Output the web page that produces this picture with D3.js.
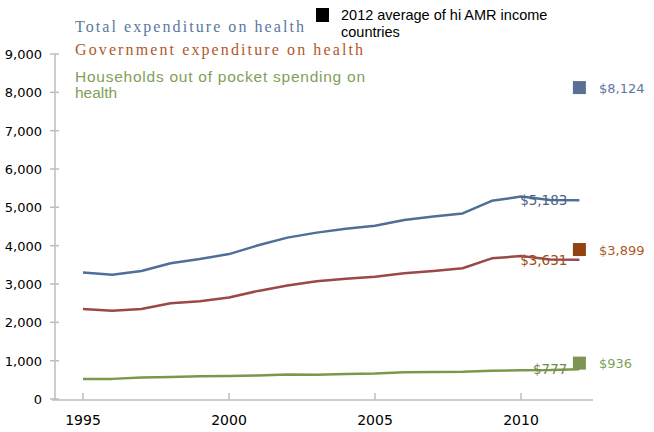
<!DOCTYPE html>
<html lang="en">
<head>
    <meta charset="UTF-8">
    <title>Health expenditure</title>
    <script src="https://d3js.org/d3.v7.min.js"></script>
    <style>
        body { margin: 0; background: #fff; }
        svg { display: block; }
        .tick-label { font-family: "DejaVu Sans", sans-serif; font-size: 13px; fill: #000; }
        .axis-line { stroke: #bdbdbd; stroke-width: 1.5px; }
    </style>
</head>
<body>
    <svg id="chart" width="654" height="432"></svg>
    <script>
        // Chart data
        const years = [1995, 1996, 1997, 1998, 1999, 2000, 2001, 2002, 2003, 2004, 2005, 2006, 2007, 2008, 2009, 2010, 2011, 2012];
        const totalExp = [3300, 3240, 3340, 3540, 3650, 3780, 4010, 4210, 4340, 4440, 4520, 4670, 4760, 4840, 5170, 5280, 5190, 5183];
        const govExp = [2350, 2300, 2350, 2500, 2550, 2650, 2820, 2960, 3070, 3140, 3190, 3280, 3340, 3410, 3670, 3730, 3640, 3631];
        const oopExp = [522, 525, 560, 575, 595, 600, 612, 640, 630, 650, 665, 700, 705, 710, 740, 750, 755, 777];
        const yTicks = [0, 1000, 2000, 3000, 4000, 5000, 6000, 7000, 8000, 9000];
        const xTicks = [1995, 2000, 2005, 2010];
        const benchYear = 2012;
        const benchmarks = [8124, 3899, 936];   // 2012 average of hi AMR income countries

        const series = [
            { name: "Total expenditure on health", values: totalExp, line: "#4f6f98", text: "#5b789f", box: "#5a6f94", lastLabel: "$5,183", lblColor: "#4b6285" },
            { name: "Government expenditure on health", values: govExp, line: "#9a4848", text: "#b0592a", box: "#91440f", lastLabel: "$3,631", lblColor: "#9c5020" },
            { name: "Households out of pocket spending on health", values: oopExp, line: "#7a984c", text: "#80a05a", box: "#7c9553", lastLabel: "$777", lblColor: "#718a4c" }
        ];

        const svg = d3.select("#chart");

        const x = d3.scaleLinear().domain([1995, 2010]).range([83, 521]);
        const y = d3.scaleLinear().domain([0, 9000]).range([399, 54]);

        // axes lines
        svg.append("line").attr("class", "axis-line")
            .attr("x1", 55).attr("x2", 55).attr("y1", y(9000)).attr("y2", 400);
        svg.append("line").attr("class", "axis-line")
            .attr("x1", 52).attr("x2", 593).attr("y1", 400).attr("y2", 400);

        // y ticks
        svg.selectAll(".ytick").data(yTicks).enter().append("line")
            .attr("class", "axis-line")
            .attr("x1", 50).attr("x2", 59)
            .attr("y1", d => y(d)).attr("y2", d => y(d));
        svg.selectAll(".ylab").data(yTicks).enter().append("text")
            .attr("class", "tick-label")
            .attr("x", 42).attr("y", d => y(d) + 5)
            .attr("text-anchor", "end")
            .text(d => d3.format(",")(d));

        // x ticks
        svg.selectAll(".xtick").data(xTicks).enter().append("line")
            .attr("class", "axis-line")
            .attr("x1", d => x(d)).attr("x2", d => x(d))
            .attr("y1", 393).attr("y2", 400);
        svg.selectAll(".xlab").data(xTicks).enter().append("text")
            .attr("class", "tick-label")
            .style("font-size", "14px")
            .attr("x", d => x(d)).attr("y", 425)
            .attr("text-anchor", "middle")
            .text(d => d);

        // lines
        const line = d3.line().x((d, i) => x(years[i])).y(d => y(d));
        series.forEach(s => {
            svg.append("path")
                .datum(s.values)
                .attr("fill", "none")
                .attr("stroke", s.line)
                .attr("stroke-width", 2.5)
                .attr("stroke-linejoin", "round")
                .attr("d", line);
        });

        // labels on the line ends
        series.forEach(s => {
            const v = s.values[s.values.length - 1];
            svg.append("text")
                .attr("x", x(benchYear) - 12)
                .attr("y", y(v) + 5)
                .attr("text-anchor", "end")
                .style("font-family", "DejaVu Sans, sans-serif")
                .style("font-size", "13.5px")
                .style("fill", s.lblColor)
                .text(s.lastLabel);
        });

        // benchmark squares
        series.forEach((s, i) => {
            const v = benchmarks[i];
            svg.append("rect")
                .attr("x", x(benchYear) - 6.5).attr("y", y(v) - 6.5)
                .attr("width", 13).attr("height", 13)
                .attr("fill", s.box);
            svg.append("text")
                .attr("x", 599).attr("y", y(v) + 5)
                .style("font-family", "DejaVu Sans, sans-serif")
                .style("font-size", "13px")
                .style("fill", s.text)
                .text("$" + d3.format(",")(v));
        });

        // legend
        svg.append("text")
            .attr("x", 75).attr("y", 32)
            .attr("textLength", 229).attr("lengthAdjust", "spacing")
            .style("font-family", "Liberation Serif, serif").style("font-size", "16px")
            .style("fill", series[0].text)
            .text(series[0].name);
        svg.append("text")
            .attr("x", 75).attr("y", 55)
            .attr("textLength", 288).attr("lengthAdjust", "spacing")
            .style("font-family", "Liberation Serif, serif").style("font-size", "16px")
            .style("fill", series[1].text)
            .text(series[1].name);
        const hh = svg.append("text")
            .style("font-family", "Liberation Sans, sans-serif").style("font-size", "15.5px")
            .style("fill", series[2].text);
        hh.append("tspan").attr("x", 75).attr("y", 82)
            .attr("textLength", 290).attr("lengthAdjust", "spacing")
            .text("Households out of pocket spending on");
        hh.append("tspan").attr("x", 75).attr("y", 98).text("health");

        svg.append("rect").attr("x", 316).attr("y", 8).attr("width", 13).attr("height", 14).attr("fill", "#000");
        const bl = svg.append("text")
            .style("font-family", "Liberation Sans, sans-serif").style("font-size", "14.5px")
            .style("fill", "#000");
        bl.append("tspan").attr("x", 341).attr("y", 20).text("2012 average of hi AMR income");
        bl.append("tspan").attr("x", 341).attr("y", 37).text("countries");
    </script>
</body>
</html>
